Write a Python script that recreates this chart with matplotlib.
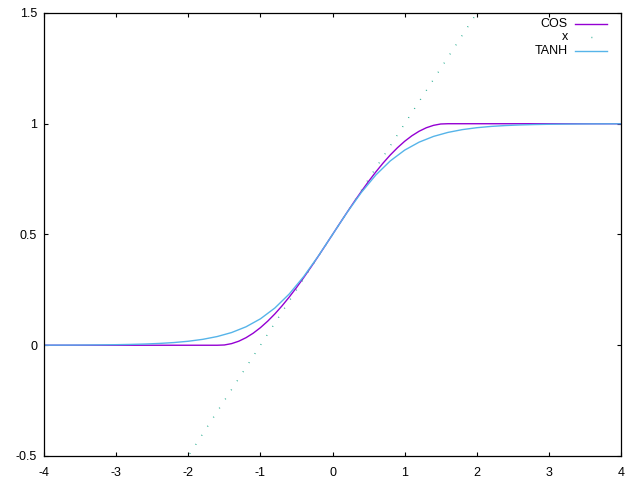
import matplotlib
matplotlib.use("Agg")
import matplotlib.pyplot as plt

# COS curve: flat at 0, rising part, flat at 1
cos_x = [-4.0, -1.6, -1.5, -1.4, -1.3, -1.2, -1.1, -1.0, -0.9, -0.8, -0.7, -0.6,
         -0.5, -0.4, -0.3, -0.2, -0.1, 0.0, 0.1, 0.2, 0.3, 0.4, 0.5, 0.6, 0.7,
         0.8, 0.9, 1.0, 1.1, 1.2, 1.3, 1.4, 1.5, 1.6, 4.0]
cos_y = [0.0, 0.0, 0.0012, 0.0073, 0.0182, 0.0340, 0.0544, 0.0793, 0.1084, 0.1413,
         0.1779, 0.2177, 0.2603, 0.3053, 0.3522, 0.4007, 0.4501, 0.5, 0.5499,
         0.5993, 0.6478, 0.6947, 0.7397, 0.7823, 0.8221, 0.8587, 0.8916, 0.9207,
         0.9456, 0.9660, 0.9818, 0.9927, 0.9988, 1.0, 1.0]

# straight "x" line
lin_x = [-4.0, 4.0]
lin_y = [-1.5, 2.5]

# TANH curve
tanh_x = [-4.0, -3.8, -3.6, -3.4, -3.2, -3.0, -2.8, -2.6, -2.4, -2.2, -2.0, -1.8,
          -1.6, -1.4, -1.2, -1.0, -0.8, -0.6, -0.4, -0.2, 0.0, 0.2, 0.4, 0.6, 0.8,
          1.0, 1.2, 1.4, 1.6, 1.8, 2.0, 2.2, 2.4, 2.6, 2.8, 3.0, 3.2, 3.4, 3.6,
          3.8, 4.0]
tanh_y = [0.0003, 0.0005, 0.0007, 0.0011, 0.0017, 0.0025, 0.0037, 0.0055, 0.0082,
          0.0121, 0.0180, 0.0266, 0.0392, 0.0573, 0.0832, 0.1192, 0.1680, 0.2315,
          0.3100, 0.4013, 0.5, 0.5987, 0.6900, 0.7685, 0.8320, 0.8808, 0.9168,
          0.9427, 0.9608, 0.9734, 0.9820, 0.9879, 0.9918, 0.9945, 0.9963, 0.9975,
          0.9983, 0.9989, 0.9993, 0.9995, 0.9997]

xticks = [-4, -3, -2, -1, 0, 1, 2, 3, 4]
yticks = [-0.5, 0, 0.5, 1, 1.5]
ytick_labels = ["-0.5", "0", "0.5", "1", "1.5"]

plt.rcParams['font.family'] = ['Liberation Sans', 'DejaVu Sans']
plt.rcParams['font.size'] = 9

fig = plt.figure(figsize=(6.4, 4.8), dpi=100)
ax = fig.add_axes([0.0688, 0.05, 0.9016, 0.923])

ax.plot(cos_x, cos_y, color='#9400d3', lw=1.0)
ax.plot(lin_x, lin_y, color='#1aa88a', lw=1.0, dashes=(0.6, 7.2))
ax.plot(tanh_x, tanh_y, color='#56b4e9', lw=1.0)

ax.set_xlim(-4, 4)
ax.set_ylim(-0.5, 1.5)
ax.set_xticks(xticks)
ax.set_xticklabels([str(t) for t in xticks])
ax.set_yticks(yticks)
ax.set_yticklabels(ytick_labels)
ax.tick_params(direction='in', length=3, width=0.8, top=True, right=True)
ax.tick_params(axis='x', pad=8)
ax.tick_params(axis='y', pad=5)
for s in ax.spines.values():
    s.set_linewidth(0.9)

# gnuplot style key: right aligned text, sample line after it
names = ["COS", "x", "TANH"]
colors = ['#9400d3', '#1aa88a', '#56b4e9']
for i, (n, c) in enumerate(zip(names, colors)):
    yy = 0.976 - i * 0.0305
    ax.text(0.908, yy, n, transform=ax.transAxes, ha='right', va='center')
    if n == "x":
        ax.plot([0.920, 0.976], [yy, yy], transform=ax.transAxes, color=c,
                lw=1.0, linestyle=(11.5, (0.6, 22.4)))
    else:
        ax.plot([0.920, 0.976], [yy, yy], transform=ax.transAxes, color=c, lw=1.0)

fig.savefig("out.png", dpi=100)
